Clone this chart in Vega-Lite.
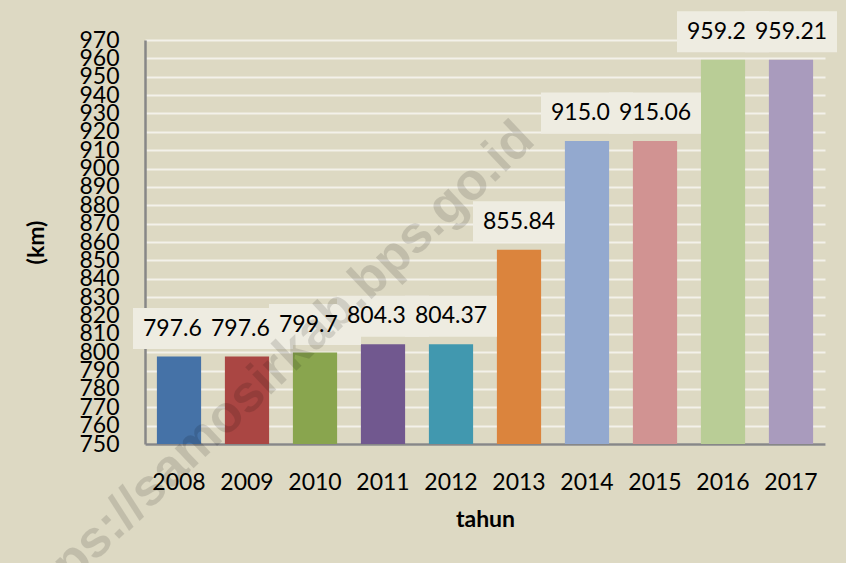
{
  "$schema": "https://vega.github.io/schema/vega-lite/v6.json",
  "width": 680,
  "height": 404,
  "autosize": "none",
  "padding": {"left": 145, "top": 40, "right": 21, "bottom": 119},
  "background": "#ddd9c3",
  "config": {
    "view": {"stroke": null},
    "font": "Lato",
    "axis": {
      "labelFont": "Lato",
      "labelFontSize": 23,
      "labelColor": "#000000",
      "titleFont": "Lato",
      "titleFontSize": 23,
      "titleFontWeight": "bold",
      "titleColor": "#000000",
      "domainColor": "#878787",
      "domainWidth": 2.5,
      "ticks": false,
      "gridColor": "#f3f1ea",
      "gridWidth": 2,
      "gridOpacity": 1
    }
  },
  "data": {
    "values": [
      {"tahun": "2008", "km": 797.63, "label": "797.6"},
      {"tahun": "2009", "km": 797.63, "label": "797.6"},
      {"tahun": "2010", "km": 799.78, "label": "799.7"},
      {"tahun": "2011", "km": 804.37, "label": "804.3"},
      {"tahun": "2012", "km": 804.37, "label": "804.37"},
      {"tahun": "2013", "km": 855.84, "label": "855.84"},
      {"tahun": "2014", "km": 915.06, "label": "915.0"},
      {"tahun": "2015", "km": 915.06, "label": "915.06"},
      {"tahun": "2016", "km": 959.21, "label": "959.2"},
      {"tahun": "2017", "km": 959.21, "label": "959.21"}
    ]
  },
  "encoding": {
    "x": {
      "field": "tahun",
      "type": "nominal",
      "title": "tahun",
      "scale": {"paddingInner": 0.35, "paddingOuter": 0.175},
      "axis": {"labelAngle": 0, "labelPadding": 27, "titlePadding": 14, "grid": false}
    },
    "y": {
      "field": "km",
      "type": "quantitative",
      "title": "(km)",
      "scale": {"domain": [750, 970], "zero": false, "nice": false},
      "axis": {
        "values": [750, 760, 770, 780, 790, 800, 810, 820, 830, 840, 850, 860, 870, 880, 890, 900, 910, 920, 930, 940, 950, 960, 970],
        "labelOverlap": false,
        "labelPadding": 26,
        "titlePadding": 30,
        "grid": true
      }
    }
  },
  "layer": [
    {
      "mark": {"type": "bar"},
      "encoding": {
        "y2": {"datum": 750},
        "color": {
          "field": "tahun",
          "type": "nominal",
          "legend": null,
          "scale": {
            "domain": ["2008", "2009", "2010", "2011", "2012", "2013", "2014", "2015", "2016", "2017"],
            "range": ["#4572a7", "#aa4643", "#89a54e", "#71588f", "#4198af", "#db843d", "#93a9cf", "#d19392", "#b9cd96", "#a99bbd"]
          }
        }
      }
    },
    {
      "mark": {
        "type": "point",
        "shape": "M-1,-0.4457H1V0.4457H-1Z",
        "filled": true,
        "opacity": 1,
        "color": "#eeece1",
        "size": 8464,
        "yOffset": -28
      }
    },
    {
      "mark": {
        "type": "text",
        "align": "left",
        "baseline": "middle",
        "dx": -36,
        "yOffset": -28,
        "font": "Lato",
        "fontSize": 23,
        "color": "#000000"
      },
      "encoding": {
        "text": {"field": "label"}
      }
    },
    {
      "transform": [{"filter": "datum.tahun == '2009'"}],
      "mark": {
        "type": "text",
        "angle": -43.5,
        "font": "Liberation Sans",
        "fontWeight": "bold",
        "fontSize": 52,
        "color": "#000000",
        "opacity": 0.12,
        "align": "center",
        "baseline": "middle",
        "xOffset": 22,
        "yOffset": 18
      },
      "encoding": {
        "text": {"value": "https://samosirkab.bps.go.id"}
      }
    }
  ]
}
